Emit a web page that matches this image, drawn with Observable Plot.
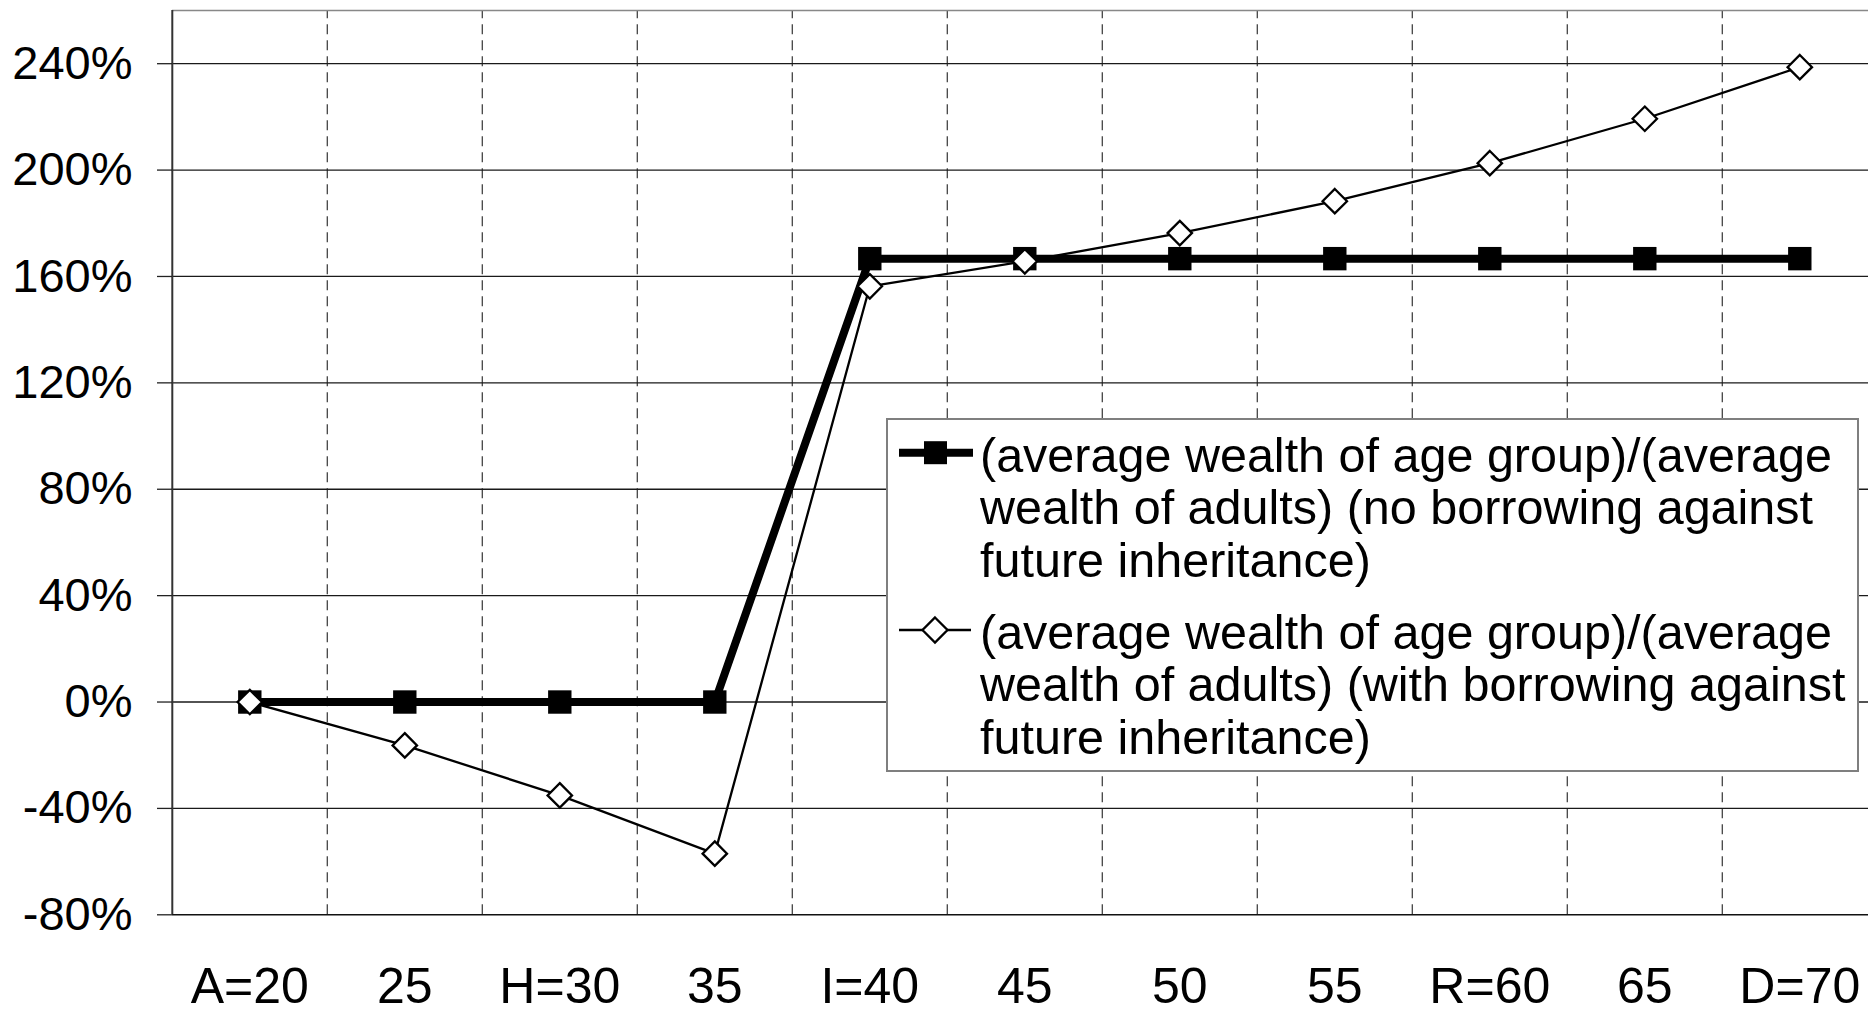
<!DOCTYPE html>
<html><head><meta charset="utf-8">
<script src="https://cdn.jsdelivr.net/npm/d3@7"></script>
<script src="https://cdn.jsdelivr.net/npm/@observablehq/plot@0.6"></script>
<style>
html,body{margin:0;padding:0;background:#fff;overflow:hidden;}
#wrap{position:relative;width:1868px;height:1011px;font-family:"Liberation Sans",Arial,sans-serif;}
#wrap svg.plot{position:absolute;left:0;top:0;}
#legend{position:absolute;left:886px;top:418px;width:973px;height:354px;box-sizing:border-box;border:2px solid #7f7f7f;background:#fff;}
#legend .txt{position:absolute;left:92px;font-size:48.5px;line-height:52.5px;white-space:nowrap;color:#000;}
#legend svg{position:absolute;left:0;top:0;overflow:visible;}
</style></head><body><div id="wrap"></div>
<script>
const ages = [20, 25, 30, 35, 40, 45, 50, 55, 60, 65, 70];
const ageLabels = ["A=20", "25", "H=30", "35", "I=40", "45", "50", "55", "R=60", "65", "D=70"];
const noBorrowing = [0, 0, 0, 0, 166.7, 166.7, 166.7, 166.7, 166.7, 166.7, 166.7];
const withBorrowing = [0, -16.3, -35.1, -57, 156.3, 165.7, 176.3, 188.3, 202.6, 219.3, 238.7];
const yTicks = [-80, -40, 0, 40, 80, 120, 160, 200, 240];
const legendLines = [
  ["(average wealth of age group)/(average", "wealth of adults) (no borrowing against", "future inheritance)"],
  ["(average wealth of age group)/(average", "wealth of adults) (with borrowing against", "future inheritance)"]
];

const xMin = 17.5, xMax = 72.5, yMin = -80, yMax = 260;
const boundaries = ages.map((a, i) => a + 2.5);
const labelOf = new Map(ages.map((a, i) => [a, ageLabels[i]]));

const chart = Plot.plot({
  width: 1868,
  height: 1011,
  marginLeft: 172, marginRight: 0, marginTop: 10, marginBottom: 97,
  style: {fontFamily: "'Liberation Sans', Arial, sans-serif", background: "transparent", color: "#000"},
  x: {type: "linear", domain: [xMin, xMax], range: [171.8, 1876.8]},
  y: {type: "linear", domain: [yMin, yMax], range: [914.3, 10]},
  marks: [
    Plot.ruleX(boundaries, {y1: yMin, y2: yMax, stroke: "#444", strokeWidth: 1.3, strokeDasharray: "10,6"}),
    Plot.ruleY(yTicks.filter(v => v > yMin), {stroke: "#1a1a1a", strokeWidth: 1.3}),
    Plot.ruleY([yMax], {stroke: "#888", strokeWidth: 1.6}),
    Plot.ruleY([yMin], {stroke: "#111", strokeWidth: 1.6}),
    Plot.ruleX([xMin], {y1: yMin, y2: yMax, stroke: "#333", strokeWidth: 2}),
    Plot.axisY({ticks: yTicks, tickFormat: d => d + "%", tickSize: 15, tickPadding: 25, fontSize: 47, stroke: "#222", strokeWidth: 1.3, label: null}),
    Plot.axisX({ticks: ages, tickFormat: d => labelOf.get(d), tickSize: 0, tickPadding: 53, fontSize: 50, label: null}),
    Plot.line(ages, {x: ages, y: noBorrowing, stroke: "#000", strokeWidth: 8}),
    Plot.dot(ages, {x: ages, y: noBorrowing, symbol: "square", r: 13.2, fill: "#000", stroke: "none"}),
    Plot.line(ages, {x: ages, y: withBorrowing, stroke: "#000", strokeWidth: 2.3}),
    Plot.dot(ages, {x: ages, y: withBorrowing, symbol: "diamond2", r: 11, fill: "#fff", stroke: "#000", strokeWidth: 2.3})
  ]
});
const wrap = document.getElementById("wrap");
wrap.appendChild(chart);

// Legend
const legend = document.createElement("div");
legend.id = "legend";
const ns = "http://www.w3.org/2000/svg";
const sw = document.createElementNS(ns, "svg");
sw.setAttribute("width", "969"); sw.setAttribute("height", "350");
sw.innerHTML =
  '<line x1="11" x2="85" y1="32.7" y2="32.7" stroke="#000" stroke-width="8"/>' +
  '<rect x="36" y="21.2" width="23" height="23" fill="#000"/>' +
  '<line x1="11" x2="83" y1="210" y2="210" stroke="#000" stroke-width="2.3"/>' +
  '<path d="M47,197.5 L59.5,210 L47,222.5 L34.5,210 Z" fill="#fff" stroke="#000" stroke-width="2.3"/>';
legend.appendChild(sw);
const tops = [8.9, 185.5];
legendLines.forEach((lines, i) => {
  const t = document.createElement("div");
  t.className = "txt";
  t.style.top = tops[i] + "px";
  t.innerHTML = lines.map(s => s.replace(/&/g, "&amp;")).join("<br>");
  legend.appendChild(t);
});
wrap.appendChild(legend);
</script>
</body></html>
